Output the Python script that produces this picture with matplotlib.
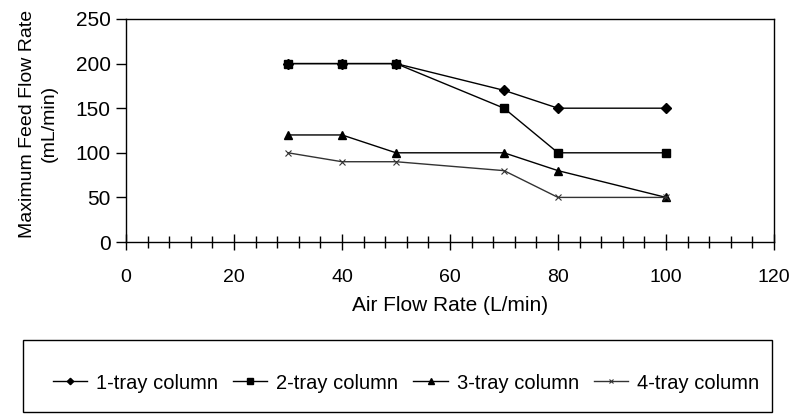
import matplotlib.pyplot as plt
from matplotlib.patches import Rectangle

plt.rcParams['font.family'] = ['Liberation Sans', 'DejaVu Sans']

air_flow = [30, 40, 50, 70, 80, 100]
tray1 = [200, 200, 200, 170, 150, 150]
tray2 = [200, 200, 200, 150, 100, 100]
tray3 = [120, 120, 100, 100, 80, 50]
tray4 = [100, 90, 90, 80, 50, 50]
labels = ["1-tray column", "2-tray column", "3-tray column", "4-tray column"]

fig = plt.figure(figsize=(7.89, 4.19), dpi=100)
ax = fig.add_axes([0.1597, 0.4224, 0.8213, 0.5323])

ax.plot(air_flow, tray1, color='black', lw=1, marker='D', ms=5, label=labels[0])
ax.plot(air_flow, tray2, color='black', lw=1, marker='s', ms=6, label=labels[1])
ax.plot(air_flow, tray3, color='black', lw=1, marker='^', ms=6, label=labels[2])
ax.plot(air_flow, tray4, color='#333333', lw=1, marker='x', ms=5, mew=0.8, label=labels[3])

ax.set_xlim(0, 120)
ax.set_ylim(0, 250)
ax.set_xticks(range(0, 121, 20))
ax.set_xticks(range(0, 121, 4), minor=True)
ax.set_yticks(range(0, 251, 50))
ax.tick_params(axis='x', which='major', direction='inout', length=11, width=1, labelsize=14, pad=14)
ax.tick_params(axis='x', which='minor', direction='inout', length=8, width=1)
ax.tick_params(axis='y', direction='out', length=7, width=1, labelsize=15, pad=4)
for s in ax.spines.values():
    s.set_linewidth(1)

ax.set_ylabel("Maximum Feed Flow Rate\n(mL/min)", fontsize=14, linespacing=1.35)
ax.yaxis.set_label_coords(-0.106, 0.53)
fig.text(0.5 * (126 + 774) / 789, 1 - 305 / 419, "Air Flow Rate (L/min)", fontsize=15,
         ha='center', va='center')

# legend box
fig.patches.append(Rectangle((23 / 789, 1 - 412 / 419), (772 - 23) / 789, 72 / 419,
                             transform=fig.transFigure, fill=False, lw=1, ec='black'))
fig.legend(loc='center', bbox_to_anchor=(406 / 789, 1 - 383 / 419), ncol=4, frameon=False,
           fontsize=14.5, handlelength=1.7, handletextpad=0.45, columnspacing=0.75,
           markerscale=0.65)

plt.savefig("out.png")
